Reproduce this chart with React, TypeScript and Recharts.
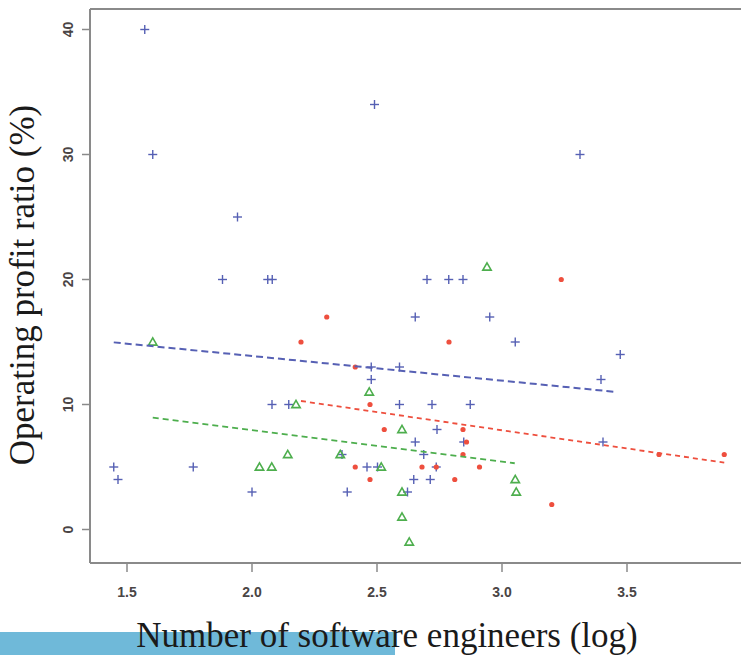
import React from 'react';
import { ScatterChart, Scatter, XAxis, YAxis, ReferenceLine } from 'recharts';

// axis ranges and ticks
const X_DOMAIN: [number, number] = [1.352, 3.956];
const Y_DOMAIN: [number, number] = [-2.68, 41.64];
const X_TICKS = [1.5, 2.0, 2.5, 3.0, 3.5];
const Y_TICKS = [0, 10, 20, 30, 40];

// blue crosses
const bluePoints = [
  { x: 1.571, y: 40 }, { x: 2.49, y: 34 }, { x: 1.603, y: 30 }, { x: 3.312, y: 30 },
  { x: 1.942, y: 25 }, { x: 1.882, y: 20 }, { x: 2.063, y: 20 }, { x: 2.081, y: 20 },
  { x: 2.7, y: 20 }, { x: 2.787, y: 20 }, { x: 2.844, y: 20 }, { x: 2.653, y: 17 },
  { x: 2.951, y: 17 }, { x: 3.053, y: 15 }, { x: 3.473, y: 14 }, { x: 2.477, y: 13 },
  { x: 2.59, y: 13 }, { x: 2.477, y: 12 }, { x: 3.396, y: 12 }, { x: 2.08, y: 10 },
  { x: 2.147, y: 10 }, { x: 2.59, y: 10 }, { x: 2.72, y: 10 }, { x: 2.873, y: 10 },
  { x: 2.74, y: 8 }, { x: 2.653, y: 7 }, { x: 2.847, y: 7 }, { x: 3.404, y: 7 },
  { x: 2.36, y: 6 }, { x: 2.687, y: 6 }, { x: 1.447, y: 5 }, { x: 1.765, y: 5 },
  { x: 2.46, y: 5 }, { x: 2.502, y: 5 }, { x: 2.737, y: 5 }, { x: 1.464, y: 4 },
  { x: 2.647, y: 4 }, { x: 2.713, y: 4 }, { x: 2.0, y: 3 }, { x: 2.381, y: 3 },
  { x: 2.622, y: 3 },
];

// red dots
const redPoints = [
  { x: 2.196, y: 15 }, { x: 2.299, y: 17 }, { x: 2.413, y: 13 }, { x: 2.413, y: 5 },
  { x: 2.472, y: 10 }, { x: 2.472, y: 4 }, { x: 2.529, y: 8 }, { x: 2.68, y: 5 },
  { x: 2.737, y: 5 }, { x: 2.788, y: 15 }, { x: 2.811, y: 4 }, { x: 2.844, y: 8 },
  { x: 2.858, y: 7 }, { x: 2.844, y: 6 }, { x: 2.91, y: 5 }, { x: 3.199, y: 2 },
  { x: 3.237, y: 20 }, { x: 3.628, y: 6 }, { x: 3.889, y: 6 },
];

// green triangles
const greenPoints = [
  { x: 1.603, y: 15 }, { x: 2.03, y: 5 }, { x: 2.079, y: 5 }, { x: 2.143, y: 6 },
  { x: 2.176, y: 10 }, { x: 2.353, y: 6 }, { x: 2.469, y: 11 }, { x: 2.517, y: 5 },
  { x: 2.6, y: 8 }, { x: 2.6, y: 3 }, { x: 2.6, y: 1 }, { x: 2.629, y: -1 },
  { x: 2.94, y: 21 }, { x: 3.053, y: 4 }, { x: 3.057, y: 3 },
];

// fitted lines (end points)
const blueFit = [{ x: 1.447, y: 14.97 }, { x: 3.459, y: 11.0 }];
const redFit = [{ x: 2.196, y: 10.28 }, { x: 3.889, y: 5.35 }];
const greenFit = [{ x: 1.603, y: 8.95 }, { x: 3.051, y: 5.3 }];

const BLUE = '#5660b4';
const RED = '#ee4f3e';
const GREEN = '#4dae4d';
const AXIS = '#8a8a8a';
const TICK_TEXT = '#4a4545';

const Plus = (props: any) => {
  const { cx, cy } = props;
  return (
    <g stroke={BLUE} strokeWidth={1.4}>
      <line x1={cx - 4.5} y1={cy} x2={cx + 4.5} y2={cy} />
      <line x1={cx} y1={cy - 4.5} x2={cx} y2={cy + 4.5} />
    </g>
  );
};

const Dot = (props: any) => {
  const { cx, cy } = props;
  return <circle cx={cx} cy={cy} r={2.6} fill={RED} />;
};

const Triangle = (props: any) => {
  const { cx, cy } = props;
  const h = 4.2;
  return (
    <polygon
      points={`${cx},${cy - h} ${cx + h},${cy + h * 0.75} ${cx - h},${cy + h * 0.75}`}
      fill="none"
      stroke={GREEN}
      strokeWidth={1.6}
    />
  );
};

const NoShape = () => <g />;

const XTick = (props: any) => {
  const { x, payload } = props;
  return (
    <text x={x} y={592} textAnchor="middle" dominantBaseline="central"
      fontFamily="'Liberation Sans', Arial, sans-serif" fontSize={14} fontWeight="bold" fill={TICK_TEXT}>
      {payload.value.toFixed(1)}
    </text>
  );
};

const YTick = (props: any) => {
  const { y, payload } = props;
  return (
    <text x={68} y={y} textAnchor="middle" dominantBaseline="central" transform={`rotate(-90 68 ${y})`}
      fontFamily="'Liberation Sans', Arial, sans-serif" fontSize={14} fontWeight="bold" fill={TICK_TEXT}>
      {payload.value}
    </text>
  );
};

const XLabel = () => (
  <g>
    <rect x={0} y={632} width={395} height={23} fill="#6fb9d9" />
    <text x={387} y={647} textAnchor="middle" fontFamily="'Liberation Serif', 'Times New Roman', serif"
      fontSize={35} fill="#1a1a1a">
      Number of software engineers (log)
    </text>
  </g>
);

const YLabel = () => (
  <text x={34} y={285} textAnchor="middle" transform="rotate(-90 34 285)"
    fontFamily="'Liberation Serif', 'Times New Roman', serif" fontSize={35} fill="#1a1a1a">
    Operating profit ratio (%)
  </text>
);

const App: React.FC = () => {
  return (
    <div style={{ position: 'absolute', left: 0, top: 0 }}>
      <ScatterChart width={741} height={655} margin={{ top: 9, right: 0, left: 0, bottom: 0 }}>
        <XAxis type="number" dataKey="x" domain={X_DOMAIN} ticks={X_TICKS} allowDataOverflow
          height={92} tickSize={9} tick={<XTick />}
          axisLine={{ stroke: AXIS, strokeWidth: 2 }} tickLine={{ stroke: AXIS, strokeWidth: 1.5 }}
          label={<XLabel />} />
        <YAxis type="number" dataKey="y" domain={Y_DOMAIN} ticks={Y_TICKS} allowDataOverflow
          width={90} tickSize={8} tick={<YTick />}
          axisLine={{ stroke: AXIS, strokeWidth: 2 }} tickLine={{ stroke: AXIS, strokeWidth: 1.5 }}
          label={<YLabel />} />
        <ReferenceLine y={Y_DOMAIN[1]} stroke={AXIS} strokeWidth={2} />
        <Scatter data={bluePoints} shape={<Plus />} isAnimationActive={false} />
        <Scatter data={redPoints} shape={<Dot />} isAnimationActive={false} />
        <Scatter data={greenPoints} shape={<Triangle />} isAnimationActive={false} />
        <Scatter data={blueFit} shape={<NoShape />} line={{ stroke: BLUE, strokeWidth: 2, strokeDasharray: '7 4' }}
          isAnimationActive={false} />
        <Scatter data={redFit} shape={<NoShape />} line={{ stroke: RED, strokeWidth: 1.8, strokeDasharray: '5 4' }}
          isAnimationActive={false} />
        <Scatter data={greenFit} shape={<NoShape />} line={{ stroke: GREEN, strokeWidth: 1.8, strokeDasharray: '6 4' }}
          isAnimationActive={false} />
      </ScatterChart>
    </div>
  );
};

export default App;
